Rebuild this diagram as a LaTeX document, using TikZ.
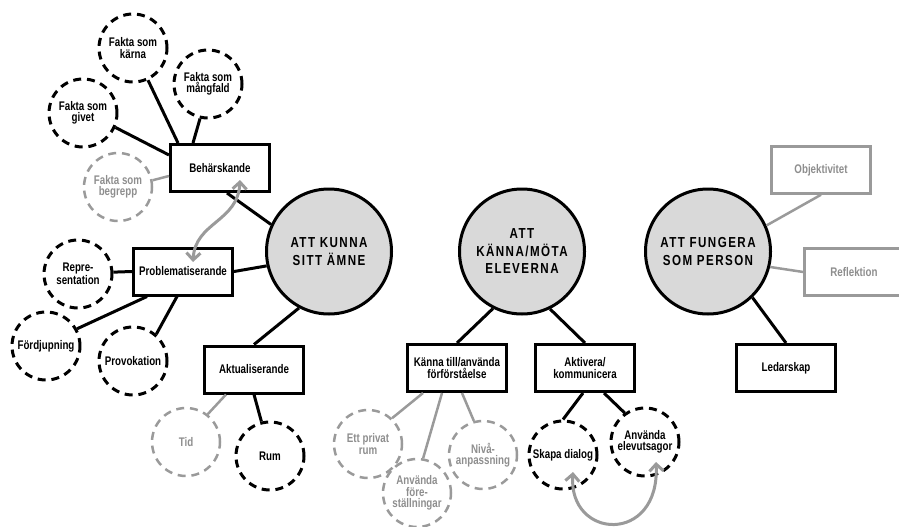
\documentclass[tikz,border=0pt]{standalone}
\usepackage{fontspec}
\usetikzlibrary{arrows.meta}
\newfontfamily\labfont[FakeStretch=0.78]{Liberation Sans}
\newfontfamily\hubfont[FakeStretch=0.8,LetterSpace=10]{Liberation Sans}
\definecolor{lightline}{HTML}{9A9A9A}
\definecolor{lighttext}{HTML}{8E8E8E}
\definecolor{hubfill}{HTML}{D9D9D9}
\tikzset{
  stepbox/.style={draw, line width=3pt, fill=white, minimum width=99pt, minimum height=47pt,
    inner sep=0pt, align=center, font=\labfont\bfseries\fontsize{12.5}{12.8}\selectfont},
  lightbox/.style={stepbox, draw=lightline, line width=2.5pt, text=lighttext},
  dcirc/.style={circle, draw, line width=3pt, dash pattern=on 8pt off 5.8pt, minimum size=68pt,
    inner sep=0pt, align=center, font=\labfont\bfseries\fontsize{12.5}{11.5}\selectfont},
  lcirc/.style={dcirc, draw=lightline, line width=2.5pt, text=lighttext},
  hub/.style={circle, draw, fill=hubfill, line width=3pt, minimum size=125pt, inner sep=0pt,
    align=center, font=\hubfont\bfseries\fontsize{14.5}{17.5}\selectfont},
  link/.style={line width=3pt},
  lightlink/.style={line width=2.5pt, draw=lightline},
  twoway/.style={line width=3pt, draw=lightline,
    {Straight Barb[length=7pt,width=14pt]}-{Straight Barb[length=7pt,width=14pt]}}
}
\begin{document}
\begin{tikzpicture}[x=1pt,y=-1pt]
\useasboundingbox (0,0) rectangle (899,527);

% central themes
\node[hub] (c1) at (329,251.5) {ATT KUNNA\\SITT ÄMNE};
\node[hub] (c2) at (522,251.5) {ATT\\KÄNNA/MÖTA\\ELEVERNA};
\node[hub] (c3) at (708,251.5) {ATT FUNGERA\\SOM PERSON};

% first theme: subject knowledge
\node[stepbox] (bh) at (220,168) {Behärskande};
\node[stepbox] (pr) at (183,271.5) {Problematiserande};
\node[stepbox] (ak) at (254,369.5) {Aktualiserande};
\node[dcirc] (fk) at (133,48) {Fakta som\\kärna};
\node[dcirc] (fm) at (208,84) {Fakta som\\mångfald};
\node[dcirc] (fg) at (83,113) {Fakta som\\givet};
\node[lcirc] (fb) at (118,187) {Fakta som\\begrepp};
\node[dcirc] (rp) at (78,274) {Repre-\\sentation};
\node[dcirc] (fd) at (46,346) {Fördjupning};
\node[dcirc] (pv) at (133,361) {Provokation};
\node[lcirc] (td) at (186,442) {Tid};
\node[dcirc] (rm) at (270,456) {Rum};

% second theme: knowing the pupils
\node[stepbox] (kt) at (457,368) {Känna till/använda\\förförståelse};
\node[stepbox] (av) at (585,368) {Aktivera/\\kommunicera};
\node[lcirc] (ep) at (368,444) {Ett privat\\rum};
\node[lcirc] (af) at (417,493) {Använda\\före-\\ställningar};
\node[lcirc] (na) at (483,455) {Nivå-\\anpassning};
\node[dcirc] (sd) at (563,455) {Skapa dialog};
\node[dcirc] (ae) at (645,442) {Använda\\elevutsagor};

% third theme: the teacher as a person
\node[lightbox] (ob) at (821,170) {Objektivitet};
\node[lightbox] (rf) at (854,272) {Reflektion};
\node[stepbox] (ld) at (786,368) {Ledarskap};

% connectors, first theme
\draw[link] ([xshift=9pt]bh.north west) -- (fk.-65);
\draw[link] ([xshift=24pt]bh.north west) -- (fm.-103);
\draw[link] ([yshift=-12pt]bh.north west) -- (fg.-24);
\draw[lightlink] ([yshift=-8pt]bh.west) -- (fb.11);
\draw[link] ([xshift=58pt]bh.south west) -- (c1.155);
\draw[link] (pr.west) -- (rp.3);
\draw[link] (pr.east) -- (c1.193);
\draw[link] ([xshift=15pt]pr.south west) -- (fd.29);
\draw[link] ([xshift=45pt]pr.south west) -- (pv.49);
\draw[link] (c1.-118) -- (ak.north);
\draw[lightlink] ([xshift=23pt]ak.south west) -- (td.52);
\draw[link] (ak.south) -- (rm.104);

% connectors, second theme
\draw[link] (c2.-117) -- (kt.north);
\draw[link] (c2.-64) -- (av.north);
\draw[lightlink] ([xshift=17pt]kt.south west) -- (ep.47);
\draw[lightlink] ([xshift=36pt]kt.south west) -- (af.80);
\draw[lightlink] ([xshift=56pt]kt.south west) -- (na.105);
\draw[link] ([xshift=49pt]av.south west) -- (sd.90);
\draw[link] ([xshift=70pt]av.south west) -- (ae.125);

% connectors, third theme
\draw[lightlink] (c3.24) -- (ob.south);
\draw[lightlink] (c3.-14) -- (rf.west);
\draw[link] (c3.-46) -- (ld.north);

% two-way relations
\coordinate (bhtip) at ([shift={(20,12)}]bh.center);
\coordinate (prtip) at ([shift={(10,-9.5)}]pr.center);
\draw[twoway] (bhtip) .. controls (238,222) and (195,222) .. (prtip);
\coordinate (sdtip) at ([shift={(10,17)}]sd.center);
\coordinate (aetip) at ([shift={(11,20)}]ae.center);
\draw[twoway] (sdtip) .. controls (568,540) and (660,545) .. (aetip);
\end{tikzpicture}
\end{document}
